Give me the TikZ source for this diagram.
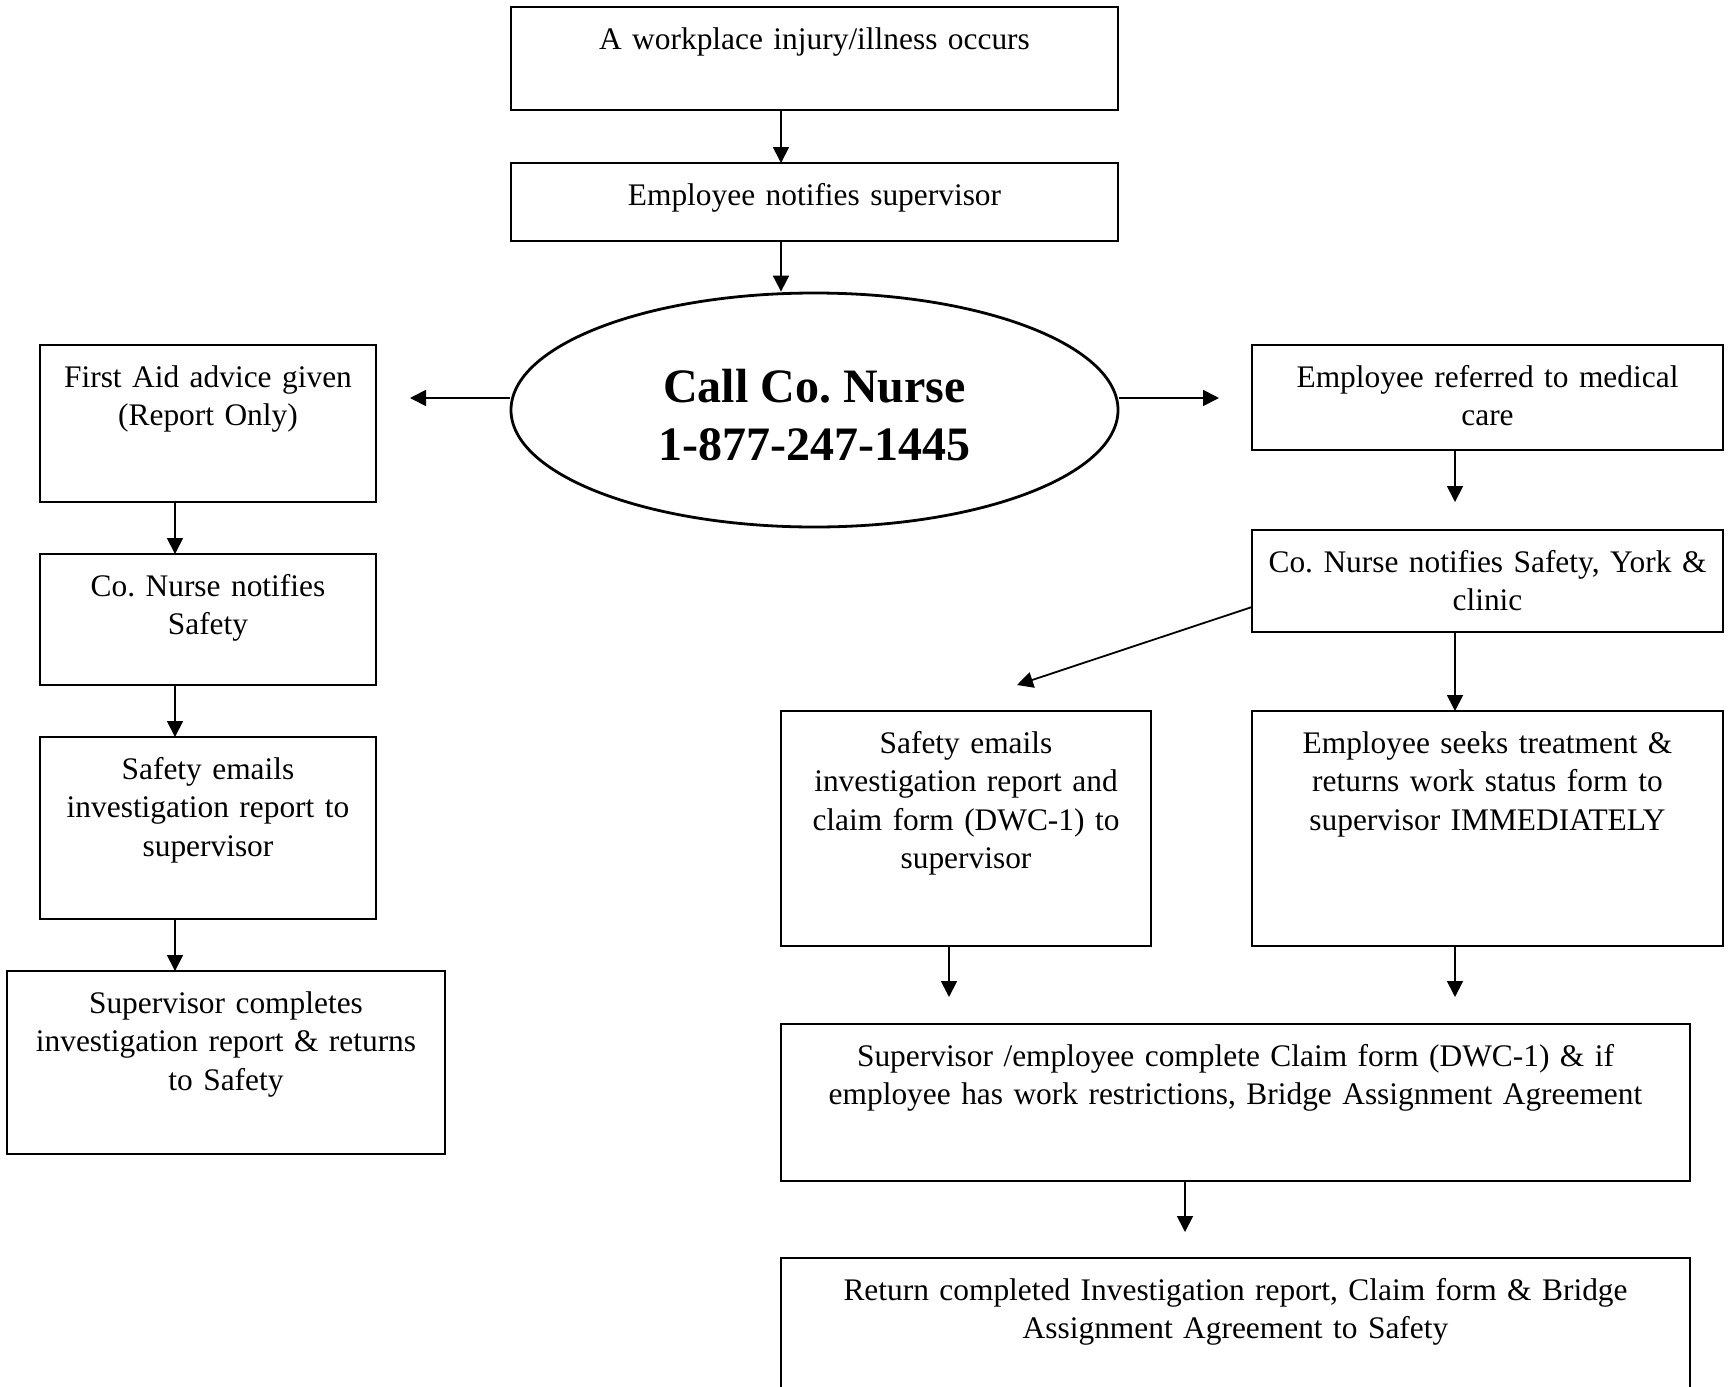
\documentclass[tikz,border=0pt]{standalone}
\usepackage{fontspec}
\setmainfont{Liberation Serif}
\usetikzlibrary{shapes.geometric,arrows.meta}
\begin{document}
\frenchspacing
\begin{tikzpicture}[x=1pt,y=-1pt,
 box/.style={draw, line width=1.8pt, anchor=north west, align=center, inner sep=0pt, outer sep=0pt, text height=42pt, font=\frenchspacing\fontsize{31.4}{38.6}\selectfont},
 arr/.style={line width=1.8pt, -{Triangle[length=16pt,width=16pt]}},
]
\useasboundingbox (0,0) rectangle (1730,1387);
% top column
\node[box, text width=607pt, text depth=61pt] (n1) at (511,7) {A workplace injury/illness occurs};
\node[box, text width=607pt, text depth=36pt] (n2) at (511,163) {Employee notifies supervisor};
\node[ellipse, draw, line width=2.8pt, minimum width=607pt, minimum height=234pt, inner sep=0pt,
  label={[font=\bfseries\fontsize{48}{57.4}\selectfont, align=center, yshift=-5pt]center:Call Co. Nurse\\1-877-247-1445}] (nurse) at (814.5,410) {};
% left column
\node[box, text width=336pt, text depth=115pt] (fa) at (40,345) {First Aid advice given\\(Report Only)};
\node[box, text width=336pt, text depth=89pt] (cn) at (40,554) {Co. Nurse notifies\\Safety};
\node[box, text width=336pt, text depth=140pt] (se) at (40,737) {Safety emails\\investigation report to\\supervisor};
\node[box, text width=438pt, text depth=141pt] (sc) at (7,971) {Supervisor completes\\investigation report \& returns\\to Safety};
% right column
\node[box, text width=471pt, text depth=63pt] (er) at (1252,345) {Employee referred to medical\\care};
\node[box, text width=471pt, text depth=60pt] (cny) at (1252,530) {Co. Nurse notifies Safety, York \&\\clinic};
\node[box, text width=370pt, text depth=193pt] (se2) at (781,711) {Safety emails\\investigation report and\\claim form (DWC-1) to\\supervisor};
\node[box, text width=471pt, text depth=193pt] (est) at (1252,711) {Employee seeks treatment \&\\returns work status form to\\supervisor IMMEDIATELY};
\node[box, text width=909pt, text depth=115pt] (sup) at (781,1024) {Supervisor /employee complete Claim form (DWC-1) \& if\\employee has work restrictions, Bridge Assignment Agreement};
\node[box, text width=909pt, text depth=90pt] (ret) at (781,1258) {Return completed Investigation report, Claim form \& Bridge\\Assignment Agreement to Safety};
% column coordinates and free ends
\coordinate (xa) at (781,0);
\coordinate (xl) at (175,0);
\coordinate (xr) at (1455,0);
\coordinate (la) at (410,398);
\coordinate (ra) at (1219,398);
\coordinate (erend) at (1455,502);
\coordinate (dgs) at (1252,607);
\coordinate (dg) at (1017,685);
\coordinate (m1) at (949,997);
\coordinate (m2) at (1455,997);
\coordinate (m3) at (1185,1232);
% connectors
\draw[arr] (n1.south -| xa) -- (n2.north -| xa);
\draw[arr] (n2.south -| xa) -- (nurse.north -| xa);
\draw[arr] (nurse.west |- la) -- (la);
\draw[arr] (nurse.east |- ra) -- (ra);
\draw[arr] (fa.south -| xl) -- (cn.north -| xl);
\draw[arr] (cn.south -| xl) -- (se.north -| xl);
\draw[arr] (se.south -| xl) -- (sc.north -| xl);
\draw[arr] (er.south -| erend) -- (erend);
\draw[arr] (cny.south -| xr) -- (est.north -| xr);
\draw[arr] (cny.west |- dgs) -- (dg);
\draw[arr] (se2.south -| m1) -- (m1);
\draw[arr] (est.south -| m2) -- (m2);
\draw[arr] (sup.south -| m3) -- (m3);
\end{tikzpicture}
\end{document}
